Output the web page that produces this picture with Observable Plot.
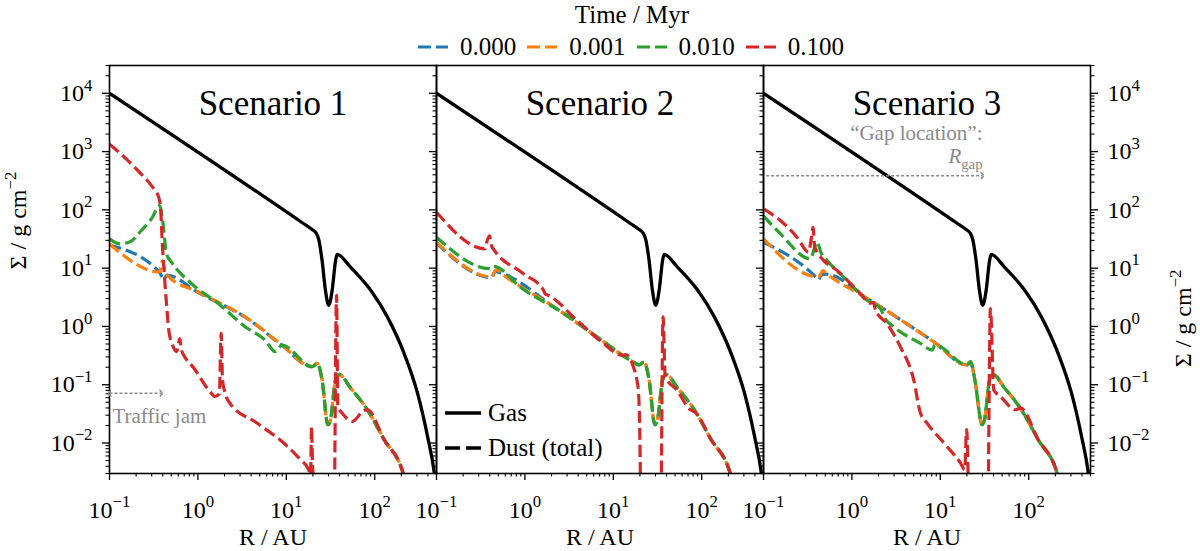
<!DOCTYPE html>
<html>
<head>
<meta charset="utf-8">
<script src="https://cdn.jsdelivr.net/npm/d3@7"></script>
<script src="https://cdn.jsdelivr.net/npm/@observablehq/plot@0.6"></script>
<style>
  body { margin: 0; background: #fff; }
  #fig { position: relative; width: 1200px; height: 551px; font-family: "Liberation Serif", "Times New Roman", "DejaVu Serif", serif; color: #000; }
  #head { position: relative; height: 58px; }
  #panels { display: flex; }
  #panels svg { flex: none; overflow: visible; display: block; }
  .abs { position: absolute; white-space: nowrap; }
</style>
</head>
<body>
<div id="fig">
  <div id="head"></div>
  <div id="panels"></div>
</div>
<script>
const FONT = "'Liberation Serif', 'Times New Roman', 'DejaVu Serif', serif";

// legend: times and colours
const times = ["0.000", "0.001", "0.010", "0.100"];
const colors = ["#1f77b4", "#ff7f0e", "#2ca02c", "#d62728"];
const scenarios = ["Scenario 1", "Scenario 2", "Scenario 3"];

// axis ticks
const xMajor = [0.1, 1, 10, 100];
const xMinor = [0.2,0.3,0.4,0.5,0.6,0.7,0.8,0.9, 2,3,4,5,6,7,8,9, 20,30,40,50,60,70,80,90, 200,300,400,500];
const yMajor = [0.01, 0.1, 1, 10, 100, 1000, 10000];
const yMinor = [0.003,0.004,0.005,0.006,0.007,0.008,0.009, 0.02,0.03,0.04,0.05,0.06,0.07,0.08,0.09,
  0.2,0.3,0.4,0.5,0.6,0.7,0.8,0.9, 2,3,4,5,6,7,8,9, 20,30,40,50,60,70,80,90,
  200,300,400,500,600,700,800,900, 2000,3000,4000,5000,6000,7000,8000,9000, 20000,30000];

// gas surface density [R (AU), Sigma (g/cm2)], same in every scenario
const gas = [[0.1, 10000], [15.6, 58.4], [19.6, 46], [21.8, 40], [23.4, 30], [25.4, 13.5], [27.7, 4.17], [30.2, 2.31],
  [33.0, 4.17], [36.1, 13.5], [37.5, 17.2], [53.3, 10.4], [90.2, 4.17], [139, 1.46], [215, 0.345],
  [305, 0.0716], [396, 0.013], [472, 0.0031], [500, 0.0015]];

// outer dust profile, shared by all times outside the gap
const dustOuter = [[39.5, 0.15], [53.3, 0.088], [82.6, 0.0372], [128, 0.0114], [206, 0.0033], [240, 0.0014]];

// scenario 1
const s1t0 = [[0.1, 25], [0.370, 8.4], [0.40, 6.8], [0.422, 6.6], [0.445, 7.6], [1.01, 3.8], [3.89, 1.27], [8.91, 0.475],
  [19.6, 0.204], [22.3, 0.233], [25.4, 0.121], [29.5, 0.0206], [31.6, 0.025], [36.1, 0.121]];
const s1t1 = [[0.1, 26], [0.370, 8.6], [0.385, 11], [0.398, 13.5], [0.42, 9.5], [0.460, 7.3], [1.01, 3.9], [3.89, 1.28], [8.91, 0.48],
  [19.6, 0.204], [22.3, 0.233], [25.4, 0.121], [29.5, 0.0206], [31.6, 0.025], [36.1, 0.121]];
const s1t2 = [[0.1, 31.9], [0.130, 26.2], [0.169, 28.0], [0.229, 44.3], [0.298, 70.1], [0.370, 118], [0.404, 57.5], [0.441, 17.7],
  [0.502, 12.7], [0.847, 5.43], [1.70, 2.47], [3.42, 0.99], [5.77, 0.58], [7.50, 0.37], [8.18, 0.42], [8.91, 0.48],
  [19.6, 0.204], [22.3, 0.233], [25.4, 0.121], [29.5, 0.0206], [31.6, 0.025], [36.1, 0.121]];
const s1t3 = [[0.1, 1343], [0.148, 794], [0.210, 470], [0.298, 260], [0.361, 164], [0.380, 97], [0.394, 30], [0.414, 9.2],
  [0.441, 2.5], [0.468, 0.87], [0.525, 0.45], [0.573, 0.37], [0.624, 0.62], [0.65, 0.40], [0.711, 0.30], [0.885, 0.20],
  [1.37, 0.076], [1.56, 0.063], [1.75, 0.07], [1.83, 0.76], [1.90, 0.12], [2.03, 0.072], [2.31, 0.048], [4.65, 0.022],
  [9.33, 0.010], [14.4, 0.0052], [17.9, 0.0035], [18.8, 0.0028], [19.3, 0.019], [19.8, 0.004], [20.4, 0.0024],
  [21.0, 0.0001], [34.3, 0.0001], [37.0, 3.43], [38.3, 0.042], [42.9, 0.0326], [55.7, 0.0234], [75.7, 0.0363], [82.6, 0.0372],
  [128, 0.0114], [206, 0.0033], [240, 0.0014]];

// scenario 2
const s2t0 = [[0.1, 27], [0.422, 6.9], [0.46, 8.8], [0.52, 8.4], [2.10, 2.2], [6.52, 0.66], [15.5, 0.265],
  [19.6, 0.22], [22.3, 0.245], [25.4, 0.121], [29.5, 0.0206], [31.6, 0.025], [36.1, 0.121]];
const s2t1 = [[0.1, 28], [0.422, 7.05], [0.45, 8.5], [0.481, 9.5], [0.52, 8.6], [2.10, 2.2], [6.52, 0.665], [15.5, 0.265],
  [19.6, 0.22], [22.3, 0.245], [25.4, 0.121], [29.5, 0.0206], [31.6, 0.025], [36.1, 0.121]];
const s2t2 = [[0.1, 34], [0.404, 9.8], [0.44, 10.8], [0.481, 10.5], [0.883, 4.75], [1.93, 2.31], [2.05, 2.2], [6.52, 0.665],
  [15.5, 0.265], [19.6, 0.22], [22.3, 0.245], [25.4, 0.121], [29.5, 0.0206], [31.6, 0.025], [36.1, 0.121]];
const s2t3 = [[0.1, 91], [0.355, 21.4], [0.375, 30], [0.398, 36], [0.42, 24], [0.440, 21.4], [0.962, 8.05], [1.62, 4.2],
  [1.70, 3.6], [1.86, 3.4], [3.87, 1.28], [7.76, 0.51], [12.5, 0.32], [13.8, 0.33], [15.5, 0.28], [16.9, 0.20],
  [18.5, 0.12], [19.3, 0.072], [20.2, 0.0035], [20.6, 0.0001], [34.0, 0.0001], [36.5, 1.46], [38.7, 0.137],
  [52.5, 0.081], [74.3, 0.0372], [82.6, 0.0345], [128, 0.0114], [206, 0.0033], [240, 0.0014]];

// scenario 3
const s3t0 = [[0.1, 28], [0.40, 6.8], [0.420, 6.3], [0.445, 7.5], [0.5, 7.9], [1.61, 2.8], [8.41, 0.546],
  [20.1, 0.218], [21.9, 0.251], [24.5, 0.126], [29.7, 0.0206], [31.6, 0.025], [36.1, 0.121]];
const s3t1 = [[0.1, 31.9], [0.420, 7.05], [0.445, 8.0], [0.468, 9.1], [0.52, 8.0], [1.61, 2.82], [8.41, 0.546],
  [20.1, 0.218], [21.9, 0.251], [24.5, 0.126], [29.7, 0.0206], [31.6, 0.025], [36.1, 0.121]];
const s3t2 = [[0.1, 79], [0.155, 39], [0.338, 14.5], [0.403, 28], [0.45, 18], [0.522, 13.6], [0.879, 6.17], [1.48, 2.82],
  [2.10, 2.03], [2.35, 1.4], [2.96, 0.99], [5.96, 0.513], [8.07, 0.394], [8.71, 0.479], [20.1, 0.218], [21.9, 0.251],
  [24.5, 0.126], [29.7, 0.0206], [31.6, 0.025], [36.1, 0.121]];
const s3t3 = [[0.1, 104], [0.155, 65.6], [0.239, 34.0], [0.324, 18.8], [0.345, 30], [0.363, 50], [0.380, 23.4], [0.479, 13.6],
  [0.678, 9.16], [1.245, 3.66], [1.61, 2.5], [1.75, 2.6], [1.85, 1.9], [2.49, 1.12], [3.53, 0.448], [5.00, 0.121],
  [5.96, 0.0326], [7.08, 0.0220], [11.9, 0.00875], [16.9, 0.00455], [18.9, 0.0035], [19.8, 0.017], [20.6, 0.003],
  [21.2, 0.0001], [33.9, 0.0001], [36.9, 2.03], [40.3, 0.0813], [47.9, 0.0631], [70.8, 0.0372], [80.7, 0.040],
  [128, 0.0114], [206, 0.0033], [240, 0.0014]];

const dust = [
  [s1t0.concat(dustOuter), s1t1.concat(dustOuter), s1t2.concat(dustOuter), s1t3],
  [s2t0.concat(dustOuter), s2t1.concat(dustOuter), s2t2.concat(dustOuter), s2t3],
  [s3t0.concat(dustOuter), s3t1.concat(dustOuter), s3t2.concat(dustOuter), s3t3]
];

// annotations
const jamArrow = [{from: 0.1, to: 0.386, sigma: 0.0716}];
const jamText = [{r: 0.108, sigma: 0.0293, text: "Traffic jam"}];
const gapArrow = [{from: 0.107, to: 30, sigma: 386}];
const gapText = [{r: 30, sigma: 2050, text: "“Gap location”:"}, {r: 30, sigma: 820, text: "R_gap"}];

const pow10 = d => "10^" + String(Math.round(Math.log10(d))).replace("-", "\u2212");
const blank = () => "";

// turn "a^b" into a superscript and "a_b" into an italic symbol with a subscript
function typeset(svg) {
  d3.select(svg).selectAll("text").each(function () {
    if (this.childElementCount) return;
    const s = this.textContent;
    let m = s.match(/^(.*)\^(.+)$/);
    if (m) {
      const t = d3.select(this).text(null);
      t.append("tspan").text(m[1]);
      t.append("tspan").attr("font-size", "0.7em").attr("dy", "-0.62em").text(m[2]);
      return;
    }
    m = s.match(/^(.+)_(.+)$/);
    if (m) {
      const t = d3.select(this).text(null);
      t.append("tspan").attr("font-style", "italic").text(m[1]);
      t.append("tspan").attr("font-size", "0.7em").attr("dy", "0.4em").text(m[2]);
    }
  });
}

function panel(k) {
  const first = k === 0, last = k === 2;
  const ml = first ? 109 : 0, mr = last ? 110 : 0;
  const marks = [
    Plot.axisX({ticks: xMinor, tickSize: 3.5, tickFormat: blank, label: null, strokeWidth: 1.1}),
    Plot.axisX({ticks: xMajor, tickSize: 7, tickPadding: 20, tickFormat: pow10, label: null, strokeWidth: 1.3}),
    Plot.axisY({anchor: "left", ticks: yMinor, tickSize: 3.5, tickFormat: blank, label: null, strokeWidth: 1.1}),
    Plot.axisY({anchor: "left", ticks: yMajor, tickSize: 7, tickPadding: 10, tickFormat: first ? pow10 : blank, label: null, strokeWidth: 1.3}),
    Plot.line(gas, {stroke: "black", strokeWidth: 3.3, curve: "monotone-x", clip: true})
  ];
  if (last) {
    marks.push(
      Plot.axisY({anchor: "right", ticks: yMinor, tickSize: 3.5, tickFormat: blank, label: null, strokeWidth: 1.1}),
      Plot.axisY({anchor: "right", ticks: yMajor, tickSize: 7, tickPadding: 10, tickFormat: pow10, label: null, strokeWidth: 1.3})
    );
  }
  dust[k].forEach((d, i) => marks.push(
    Plot.line(d, {stroke: colors[i], strokeWidth: 3.2, strokeDasharray: "12,5", strokeLinecap: "butt",
      curve: "monotone-x", clip: true})
  ));
  marks.push(
    Plot.frame({stroke: "black", strokeWidth: 1.6}),
    Plot.text([scenarios[k]], {frameAnchor: "top", dy: 25, fontSize: 35}),
    Plot.text(["R / AU"], {frameAnchor: "bottom", dy: 71, fontSize: 24})
  );
  if (first) {
    marks.push(
      Plot.text(["\u03a3 / g cm^\u22122"], {frameAnchor: "left", rotate: -90, dx: -91, fontSize: 24}),
      Plot.link(jamArrow, {x1: "from", x2: "to", y1: "sigma", y2: "sigma", stroke: "#8a8a8a", strokeWidth: 1.5,
        strokeDasharray: "3,2", markerStart: "arrow-reverse", markerEnd: "arrow"}),
      Plot.text(jamText, {x: "r", y: "sigma", text: "text", textAnchor: "start", fill: "#8a8a8a", fontSize: 21})
    );
  }
  if (last) {
    marks.push(
      Plot.text(["\u03a3 / g cm^\u22122"], {frameAnchor: "right", rotate: -90, dx: 93, fontSize: 24}),
      Plot.link(gapArrow, {x1: "from", x2: "to", y1: "sigma", y2: "sigma", stroke: "#8a8a8a", strokeWidth: 1.5,
        strokeDasharray: "3,2", markerEnd: "arrow"}),
      Plot.text(gapText, {x: "r", y: "sigma", text: "text", textAnchor: "end", fill: "#8a8a8a", fontSize: 21})
    );
  }
  const svg = Plot.plot({
    width: ml + 327 + mr,
    height: 493,
    marginLeft: ml, marginRight: mr, marginTop: 7, marginBottom: 78,
    x: {type: "log", domain: [0.1, 500]},
    y: {type: "log", domain: [0.003, 30000]},
    style: {fontFamily: FONT, fontSize: "24px", background: "transparent", overflow: "visible"},
    marks
  });
  typeset(svg);
  return svg;
}

const panels = document.getElementById("panels");
[0, 1, 2].forEach(k => panels.appendChild(panel(k)));

// time legend on top
const head = d3.select("#head");
head.append("div").attr("class", "abs")
  .style("left", "532px").style("width", "200px").style("top", "1px")
  .style("text-align", "center").style("font-size", "25px").text("Time / Myr");
const row = head.append("div").attr("class", "abs")
  .style("left", "418px").style("top", "33px").style("display", "flex").style("align-items", "center")
  .style("font-size", "25px");
times.forEach((t, i) => {
  const item = row.append("div").style("display", "flex").style("align-items", "center").style("margin-right", "11px");
  const sw = item.append("svg").attr("width", 30).attr("height", 16).style("margin-right", "12px");
  sw.append("line").attr("x1", 0).attr("x2", 30).attr("y1", 8).attr("y2", 8)
    .attr("stroke", colors[i]).attr("stroke-width", 3.2).attr("stroke-dasharray", "13,5");
  item.append("span").text(t);
});

// gas / dust key inside scenario 2
const fig = d3.select("#fig");
const key = [{label: "Gas", dash: null, y: 413}, {label: "Dust (total)", dash: "15,6", y: 448}];
key.forEach(e => {
  const s = fig.append("svg").attr("class", "abs").style("left", "445px").style("top", (e.y - 8) + "px")
    .attr("width", 36).attr("height", 16);
  s.append("line").attr("x1", 0).attr("x2", 36).attr("y1", 8).attr("y2", 8).attr("stroke", "black")
    .attr("stroke-width", 3.4).attr("stroke-dasharray", e.dash);
  fig.append("div").attr("class", "abs").style("left", "488px").style("top", (e.y - 15) + "px")
    .style("font-size", "25px").style("line-height", "30px").text(e.label);
});
</script>
</body>
</html>
